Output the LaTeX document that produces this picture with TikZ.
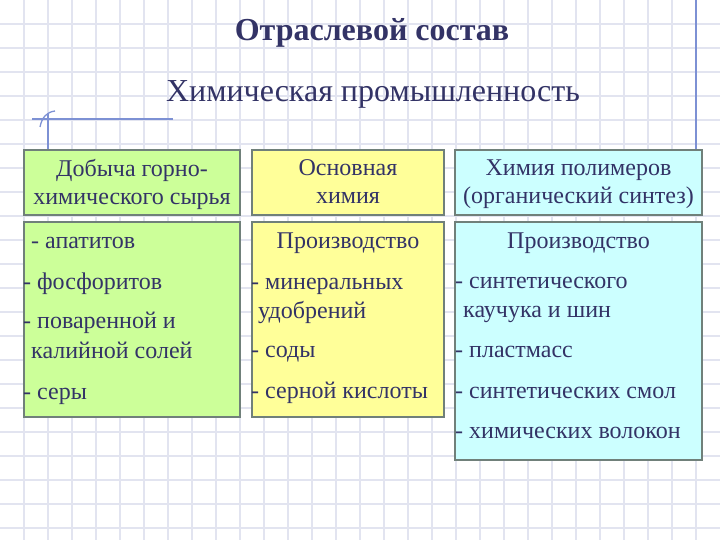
\documentclass[tikz,border=0pt]{standalone}
\usepackage{fontspec}
\setmainfont{Liberation Serif}
\definecolor{txt}{RGB}{51,51,102}
\definecolor{gridc}{RGB}{226,228,240}
\definecolor{blueline}{RGB}{125,145,212}
\definecolor{bordc}{RGB}{112,128,122}
\definecolor{fgreen}{RGB}{204,255,153}
\definecolor{fyellow}{RGB}{255,255,153}
\definecolor{fcyan}{RGB}{204,255,255}
\begin{document}
\begin{tikzpicture}[x=1pt,y=-1pt,
  box/.style={draw=bordc, line width=1.5pt, inner sep=0pt, outer sep=0pt, anchor=north west},
  ln/.style={anchor=base west, inner sep=0pt, text=txt, font=\fontsize{24}{28}\selectfont},
  ctr/.style={anchor=base, inner sep=0pt, text=txt, font=\fontsize{24}{28}\selectfont},
  gridline/.style={draw=gridc, line width=1.2pt},
  deco/.style={draw=blueline, line width=1.3pt}]
\useasboundingbox[fill=white] (0,0) rectangle (720,540);
% graph paper
\foreach \i in {1,...,29} \draw[gridline] (24*\i,0) -- (24*\i,540);
\foreach \j in {1,...,22} \draw[gridline] (0,24*\j) -- (720,24*\j);
% notebook margin decoration
\coordinate (hl) at (32,119);
\coordinate (hr) at (173,119);
\coordinate (vt) at (48,113);
\coordinate (vb) at (48,150);
\coordinate (as) at (40,127);
\coordinate (ae) at (55,111);
\coordinate (rt) at (696,0);
\coordinate (rb) at (696,150);
\draw[deco] (hl) -- (hr);
\draw[deco] (vt) -- (vb);
\draw[deco] (as) .. controls (42,117) and (47,112) .. (ae);
\draw[deco] (rt) -- (rb);
% titles
\node[anchor=base, inner sep=0pt, text=txt, font=\fontsize{32}{36}\selectfont\bfseries] (title) at (372,41) {Отраслевой состав};
\node[anchor=base, inner sep=0pt, text=txt, font=\fontsize{32}{36}\selectfont] (sub) at (373,102) {Химическая промышленность};
% boxes
\node[box, fill=fgreen, minimum width=216pt, minimum height=65pt] (h1) at (24,150) {};
\node[box, fill=fgreen, minimum width=216pt, minimum height=195pt] (b1) at (24,222) {};
\node[box, fill=fyellow, minimum width=192pt, minimum height=65pt] (h2) at (252,150) {};
\node[box, fill=fyellow, minimum width=192pt, minimum height=195pt] (b2) at (252,222) {};
\node[box, fill=fcyan, minimum width=247pt, minimum height=65pt] (h3) at (455,150) {};
\node[box, fill=fcyan, minimum width=247pt, minimum height=238pt] (b3) at (455,222) {};
% header texts
\node[ctr] (h1a) at (132,177) {Добыча горно-};
\node[ctr] (h1b) at (132,205) {химического сырья};
\node[ctr] (h2a) at (348,176) {Основная};
\node[ctr] (h2b) at (348,204) {химия};
\node[ctr] (h3a) at (578.5,176) {Химия полимеров};
\node[ctr] (h3b) at (578.5,204) {(органический синтез)};
% body 1
\node[ln] (b1a) at (31,248) {- апатитов};
\node[ln] (b1b) at (23,289) {- фосфоритов};
\node[ln] (b1c) at (23,328) {- поваренной и};
\node[ln] (b1d) at (31,358) {калийной солей};
\node[ln] (b1e) at (23,399) {- серы};
% body 2
\node[ctr] (b2a) at (348,248) {Производство};
\node[ln] (b2b) at (251,289) {- минеральных};
\node[ln] (b2c) at (258,318) {удобрений};
\node[ln] (b2d) at (251,357) {- соды};
\node[ln] (b2e) at (251,398) {- серной кислоты};
% body 3
\node[ctr] (b3a) at (578.5,248) {Производство};
\node[ln] (b3b) at (455,288) {- синтетического};
\node[ln] (b3c) at (463,317) {каучука и шин};
\node[ln] (b3d) at (455,357) {- пластмасс};
\node[ln] (b3e) at (455,398) {- синтетических смол};
\node[ln] (b3f) at (455,438) {- химических волокон};
\end{tikzpicture}
\end{document}
